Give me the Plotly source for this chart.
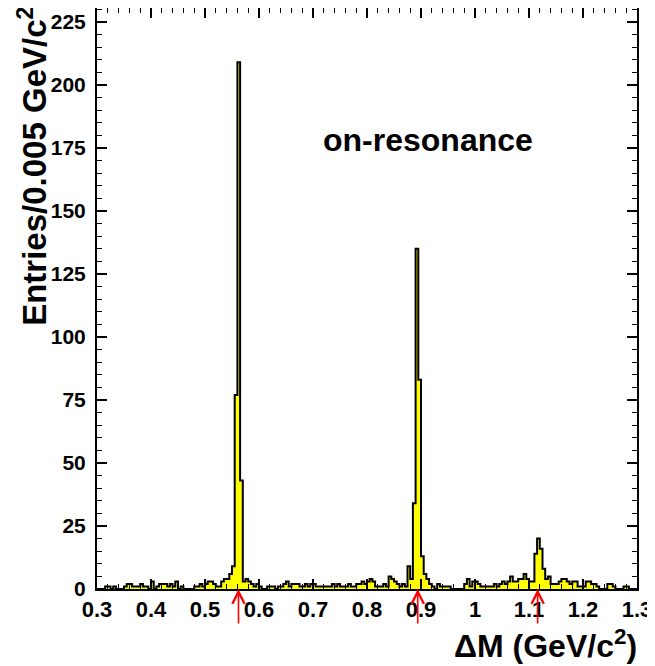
import numpy as np
import plotly.graph_objects as go

# ---- data ----
x_min = 0.3
x_max = 1.3
bin_width = 0.005

counts = [
    0, 0, 0, 1, 1, 0, 1, 0, 0, 0,
    1, 2, 2, 1, 1, 1, 2, 1, 1, 0,
    3, 0, 1, 2, 2, 2, 1, 2, 1, 3,
    0, 1, 0, 0, 0, 0, 1, 1, 2, 1,
    2, 3, 3, 2, 1, 1, 3, 4, 4, 6,
    9, 77, 209, 43, 3, 4, 3, 2, 1, 2,
    1, 0, 0, 1, 1, 1, 0, 1, 1, 2,
    3, 1, 2, 2, 2, 1, 1, 2, 1, 2,
    2, 1, 1, 1, 1, 1, 1, 2, 1, 2,
    1, 1, 1, 2, 1, 1, 2, 2, 3, 2,
    3, 4, 3, 1, 1, 1, 2, 1, 5, 4,
    3, 2, 1, 2, 1, 9, 4, 34, 135, 83,
    13, 6, 4, 2, 1, 0, 2, 1, 1, 1,
    1, 0, 0, 0, 0, 0, 2, 4, 1, 3,
    3, 2, 1, 1, 1, 1, 1, 2, 1, 2,
    3, 2, 3, 5, 3, 3, 4, 4, 6, 4,
    3, 3, 14, 20, 16, 8, 4, 5, 2, 2,
    2, 3, 4, 4, 3, 2, 3, 3, 1, 1,
    1, 3, 3, 2, 2, 1, 0, 0, 0, 2,
    2, 1, 0, 0, 0, 1, 1, 0, 0, 0,
]

arrow_positions = [0.562, 0.894, 1.116]

x_tick_vals = [0.3, 0.4, 0.5, 0.6, 0.7, 0.8, 0.9, 1.0, 1.1, 1.2, 1.3]
x_tick_text = ["0.3", "0.4", "0.5", "0.6", "0.7", "0.8", "0.9", "1", "1.1", "1.2", "1.3"]
y_tick_vals = [0, 25, 50, 75, 100, 125, 150, 175, 200, 225]
y_tick_text = ["0", "25", "50", "75", "100", "125", "150", "175", "200", "225"]

label_text = "on-resonance"
x_title = "ΔM (GeV/c<sup>2</sup>)"
y_title = "Entries/0.005 GeV/c<sup>2</sup>"

# ---- build step histogram ----
n_bins = len(counts)
edges = x_min + bin_width * np.arange(n_bins + 1)
xs = np.concatenate([edges[:-1], [edges[-1]]])
ys = np.concatenate([np.array(counts, dtype=float), [counts[-1]]])

FONT = "Liberation Sans, Arial, Helvetica, sans-serif"

fig = go.Figure()
fig.add_trace(go.Scatter(
    x=xs, y=ys, mode="lines", line_shape="hv",
    line=dict(color="black", width=2),
    fill="tozeroy", fillcolor="#ffff00",
    hoverinfo="skip", showlegend=False,
))

annotations = []
for xp in arrow_positions:
    annotations.append(dict(
        x=xp, y=0, xref="x", yref="y", ax=0, ay=36, axref="pixel", ayref="pixel",
        showarrow=True, arrowhead=5, arrowsize=1.5, arrowwidth=1.6,
        arrowcolor="#ff0000", text="",
    ))

annotations.append(dict(
    x=0.913, y=178, xref="x", yref="y", text="<b>" + label_text + "</b>",
    showarrow=False, font=dict(family=FONT, size=32, color="black"),
    xanchor="center", yanchor="middle",
))
annotations.append(dict(
    x=1.003, y=-0.095, xref="paper", yref="paper", text="<b>" + x_title + "</b>",
    showarrow=False, font=dict(family=FONT, size=32, color="black"),
    xanchor="right", yanchor="middle",
))
annotations.append(dict(
    x=-0.12, y=1.005, xref="paper", yref="paper", text="<b>" + y_title + "</b>",
    showarrow=False, font=dict(family=FONT, size=33, color="black"),
    xanchor="center", yanchor="top", textangle=-90,
))

# the page body adds an 8px offset, so the figure is sized to fit the window
fig.update_layout(
    width=647, height=658,
    margin=dict(l=89, r=18, t=0, b=77, autoexpand=False),
    paper_bgcolor="white", plot_bgcolor="white",
    annotations=annotations,
    font=dict(family=FONT, color="black"),
)

fig.update_xaxes(
    range=[x_min, x_max], showgrid=False, zeroline=False, automargin=False,
    showline=True, linecolor="black", linewidth=2, mirror="allticks",
    ticks="inside", ticklen=10, tickwidth=1.5, tickcolor="black",
    tickvals=x_tick_vals, ticktext=["<b>" + t + "</b>" for t in x_tick_text],
    tickfont=dict(family=FONT, size=22, color="black"),
    minor=dict(ticks="inside", ticklen=5, dtick=0.02, tickcolor="black", tickwidth=1.2),
)
fig.update_yaxes(
    range=[0, 230.5], showgrid=False, zeroline=False, automargin=False,
    showline=True, linecolor="black", linewidth=2, mirror="allticks",
    ticks="inside", ticklen=10, tickwidth=1.5, tickcolor="black",
    tickvals=y_tick_vals, ticktext=["<b>" + t + "</b>" for t in y_tick_text],
    tickfont=dict(family=FONT, size=21, color="black"),
    ticklabelstandoff=5,
    minor=dict(ticks="inside", ticklen=5, dtick=5, tickcolor="black", tickwidth=1.2),
)

fig.write_html("out.html")
